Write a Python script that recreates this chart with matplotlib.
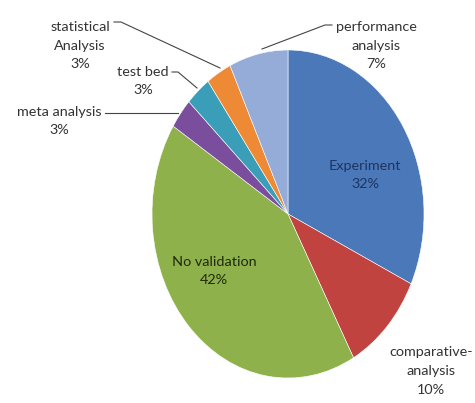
import matplotlib.pyplot as plt

plt.rcParams["font.family"] = ["Lato", "DejaVu Sans"]

# data, clockwise from 12 o'clock
names = ["Experiment", "comparative-\nanalysis", "No validation", "meta analysis",
         "test bed", "statistical\nAnalysis", "performance\nanalysis"]
shares = [32, 10, 42, 3, 3, 3, 7]
colors = ["#4A78B8", "#C0433F", "#8FB14C", "#7A4E9C", "#3A9EB8", "#EE8A35", "#95ABD8"]

W, H = 475, 403
cx, cy, rx, ry = 288, 214, 136, 164  # pie centre / radii in pixels


def px(x, y):
    # pixel (top-left origin) -> data coords of the stretched unit circle
    return (x - cx) / rx, (cy - y) / ry


fig = plt.figure(figsize=(W / 100, H / 100), dpi=100)
ax = fig.add_axes([0, 0, 1, 1])
ax.pie(shares, colors=colors, startangle=90, counterclock=False,
       wedgeprops=dict(edgecolor="white", linewidth=0.4))
ax.set_aspect("auto")
ax.set_xlim(-cx / rx, (W - cx) / rx)
ax.set_ylim(-(H - cy) / ry, cy / ry)
ax.axis("off")

labels = [f"{n}\n{s}%" for n, s in zip(names, shares)]
fs = 10.4

# inside labels
ax.text(*px(365, 175), labels[0], ha="center", va="center", fontsize=fs,
        color="#1F3462", linespacing=1.65)
ax.text(*px(214, 271), labels[2], ha="center", va="center", fontsize=fs,
        color="#1E2A0B", linespacing=1.65)

# outside labels
out = [(1, 431, 371), (3, 59, 121), (4, 143, 81), (5, 80, 46), (6, 376, 46)]
for i, x, y in out:
    ax.text(*px(x, y), labels[i], ha="center", va="center", fontsize=fs,
            color="#333333", linespacing=1.65)

# leader lines
leaders = [
    [(105, 113), (178, 113)],
    [(172, 72), (178, 72), (197, 88)],
    [(114, 22), (121, 22), (220, 68)],
    [(332, 25), (325, 25), (262, 49)],
]
for pts in leaders:
    xs, ys = zip(*[px(x, y) for x, y in pts])
    ax.plot(xs, ys, color="#444444", lw=0.8)

fig.savefig("out.png", dpi=100)
